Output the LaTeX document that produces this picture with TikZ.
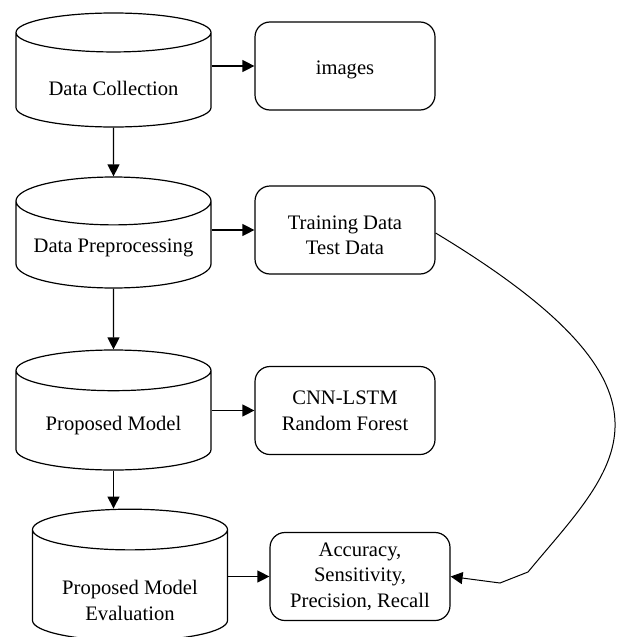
\documentclass[tikz,border=0pt]{standalone}
\usepackage{fontspec}
\setmainfont{Liberation Serif}
\usetikzlibrary{shapes.geometric,arrows.meta,positioning,calc}

\begin{document}
\begin{tikzpicture}[x=0.5pt, y=-0.5pt,
	store/.style={draw, cylinder, shape border rotate=90, aspect=0.3, line width=0.6pt, minimum width=97.5pt, minimum height=57pt, align=center, inner sep=0pt, anchor=shape center},
	result/.style={draw, rectangle, rounded corners=7.5pt, line width=0.6pt, minimum width=90pt, minimum height=44pt, align=center},
	arr/.style={-{Triangle[length=6pt,width=6pt]}, line width=0.6pt},
	font=\fontsize{10.3}{12.8}\selectfont]
		\useasboundingbox (0,0) rectangle (617,637);

		% left column: stages
		\node[store, text height=15pt, text depth=0pt] (dc) at (113.5,70) {Data Collection};
		\node[store, minimum height=55.5pt, text height=9.5pt, text depth=2.2pt] (dp) at (113.5,232.5) {Data Preprocessing};
		\node[store, minimum height=60pt, text height=12pt, text depth=2.2pt] (pm) at (113.5,410) {Proposed Model};
		\node[store, minimum height=60pt, text height=35pt, text depth=0pt] (pme) at (130,575) {Proposed Model\\Evaluation};

		% right column: outputs
		\node[result, text height=11pt, text depth=2.2pt] (img) at (345,66) {images};
		\node[result, text height=24.8pt, text depth=0pt] (tt) at (345,230) {Training Data\\Test Data};
		\node[result] (cr) at (345,410.5) {CNN-LSTM\\Random Forest};
		\node[result] (acc) at (360,576.5) {Accuracy,\\Sensitivity,\\Precision, Recall};

		\draw[arr] (dc.south) -- (dp.north);
		\draw[arr] (dp.south) -- (pm.north);
		\draw[arr] (pm.south) -- (pm.south |- pme.north);

		\draw[arr] (dc.east |- img.west) -- (img.west);
		\draw[arr] (dp.east |- tt.west) -- (tt.west);
		\draw[arr] (pm.east |- cr.west) -- (cr.west);
		\draw[arr] (pme.east |- acc.west) -- (acc.west);

		% loop from the data split to the metrics
		\coordinate (k1) at (528,572);
		\coordinate (k2) at (500,583);
		\draw[arr, line width=0.5pt] ([yshift=-1.5pt]tt.east) .. controls (706,396) and (613,469) .. (k1) -- (k2) -- (acc.east);
\end{tikzpicture}
\end{document}
